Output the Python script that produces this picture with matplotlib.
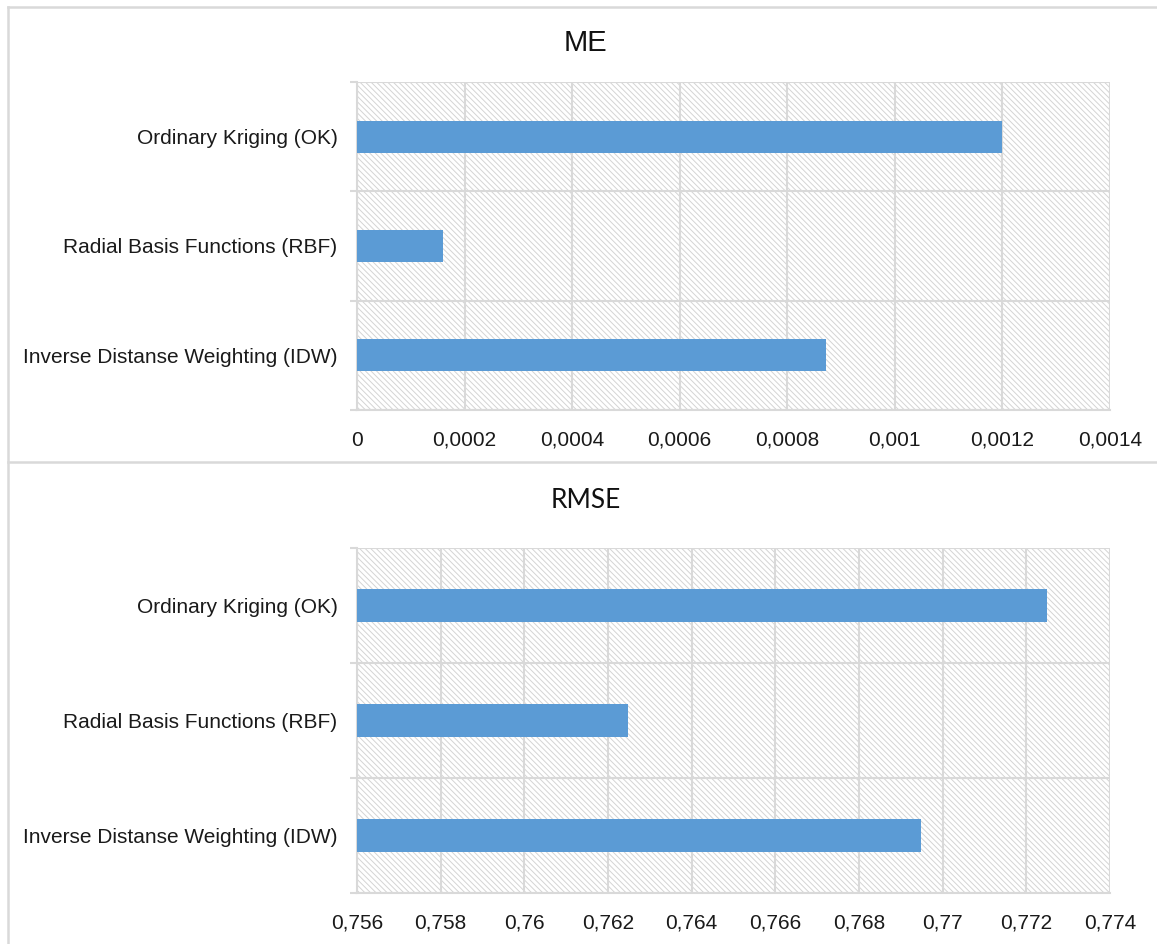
import matplotlib
matplotlib.use("Agg")
import matplotlib.pyplot as plt
from matplotlib.patches import Rectangle
from matplotlib.lines import Line2D
from matplotlib.ticker import FuncFormatter, MultipleLocator, FixedLocator
import numpy as np

plt.rcParams['font.family'] = ['Liberation Sans', 'DejaVu Sans']
plt.rcParams['hatch.linewidth'] = 0.7

methods = ['Inverse Distanse Weighting (IDW)', 'Radial Basis Functions (RBF)', 'Ordinary Kriging (OK)']
me_vals = [0.000872, 0.00016, 0.0012]
rmse_vals = [0.76948, 0.76248, 0.77249]

bar_color = '#5b9bd5'
grid_color = '#d9d9d9'
hatch_color = '#d4d4d4'

W, H = 1157, 944
fig = plt.figure(figsize=(W / 100, H / 100), dpi=100)


def comma_fmt(v, pos):
    return ('%g' % round(v, 6)).replace('.', ',')


def panel(rect, vals, xmin, xmax, step, title, title_y, title_font, title_size):
    ax = fig.add_axes(rect)
    y = np.arange(len(vals))
    # hatched plot area
    ax.add_patch(Rectangle((0, 0), 1, 1, transform=ax.transAxes, fill=False,
                           edgecolor=hatch_color, lw=0, hatch='\\' * 6, zorder=0))
    ax.barh(y, [v - xmin for v in vals], left=xmin, height=0.29, color=bar_color, zorder=3)
    ax.set_xlim(xmin, xmax)
    ax.set_ylim(-0.5, len(vals) - 0.5)
    ax.xaxis.set_major_locator(MultipleLocator(step))
    ax.xaxis.set_major_formatter(FuncFormatter(comma_fmt))
    ax.grid(axis='x', color=grid_color, lw=1.5, zorder=1)
    for b in np.arange(-0.5, len(vals), 1.0):
        ax.axhline(b, color=grid_color, lw=1.5, zorder=1)
    ax.set_yticks(y)
    ax.set_yticklabels(methods)
    ax.yaxis.set_minor_locator(FixedLocator(np.arange(-0.5, len(vals), 1.0)))
    ax.tick_params(axis='y', which='major', length=0, pad=14, labelsize=15, labelcolor='#1a1a1a')
    ax.tick_params(axis='y', which='minor', length=5, width=1.5, color=grid_color)
    ax.tick_params(axis='x', length=0, pad=15, labelsize=15, labelcolor='#1a1a1a')
    for s in ['top', 'right']:
        ax.spines[s].set_visible(False)
    for s in ['left', 'bottom']:
        ax.spines[s].set_color(grid_color)
        ax.spines[s].set_linewidth(1.5)
    fig.text(0.506, title_y, title, ha='center', va='center', fontsize=title_size,
             family=title_font, color='#111111')
    return ax


panel([357 / W, 534 / H, 753 / W, 328 / H], me_vals, 0, 0.0014, 0.0002,
      'ME', 1 - 43 / H, ['Liberation Sans'], 21)
panel([357 / W, 51 / H, 753 / W, 345 / H], rmse_vals, 0.756, 0.774, 0.002,
      'RMSE', 1 - 500 / H, ['Lato', 'DejaVu Sans'], 19)

# chart frames
fc = grid_color
fig.add_artist(Line2D([8 / W, 8 / W], [0, 1 - 7 / H], color=fc, lw=1.8))
fig.add_artist(Line2D([8 / W, 1], [1 - 7 / H, 1 - 7 / H], color=fc, lw=1.8))
fig.add_artist(Line2D([8 / W, 1], [1 - 462 / H, 1 - 462 / H], color=fc, lw=1.8))

fig.savefig('out.png', dpi=100)
